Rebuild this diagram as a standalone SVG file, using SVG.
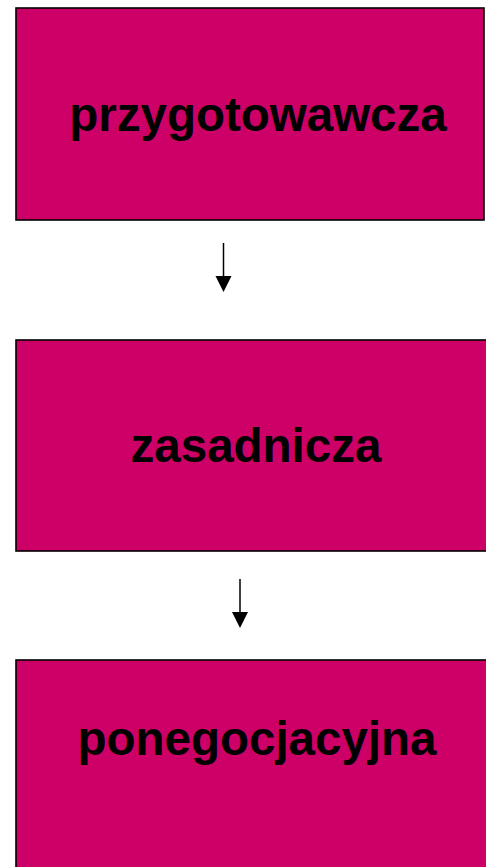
<svg xmlns="http://www.w3.org/2000/svg" width="486" height="867" viewBox="0 0 486 867">
  <style>
    .box { fill: #CC0066; stroke: #000; stroke-width: 1.6; }
    .label { font-family: "Liberation Sans", Arial, sans-serif; font-weight: bold; font-size: 47.5px; fill: #000; text-anchor: middle; }
    .link { stroke: #000; stroke-width: 1.5; fill: none; }
    .head { fill: #000; }
  </style>
  <rect width="486" height="867" fill="#fff"/>

  <g id="phase-prep">
    <rect class="box" x="16" y="8" width="468" height="212"/>
    <text class="label" x="258" y="131">przygotowawcza</text>
  </g>

  <g id="phase-main">
    <rect class="box" x="16" y="340" width="480" height="211"/>
    <text class="label" x="256" y="462">zasadnicza</text>
  </g>

  <g id="phase-post">
    <rect class="box" x="16" y="660" width="480" height="230"/>
    <text class="label" x="257" y="755">ponegocjacyjna</text>
  </g>

  <g id="connectors">
    <line class="link" x1="223.5" y1="243" x2="223.5" y2="277"/>
    <path class="head" d="M215.5,276 L231.5,276 L223.5,292 Z"/>
    <line class="link" x1="240" y1="579" x2="240" y2="613"/>
    <path class="head" d="M232,612 L248,612 L240,628 Z"/>
  </g>
</svg>
